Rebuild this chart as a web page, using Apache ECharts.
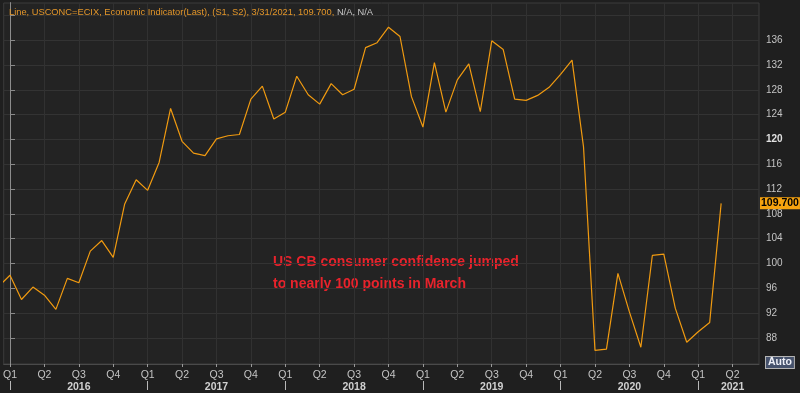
<!DOCTYPE html>
<html><head><meta charset="utf-8">
<script src="https://cdn.jsdelivr.net/npm/echarts@6/dist/echarts.min.js"></script>
<style>html,body{margin:0;padding:0;background:#1f1f1f}#c{width:800px;height:393px}</style>
</head><body><div id="c"></div><script>
// ---- data ----
const months = [
  '2015-12',
  '2016-01','2016-02','2016-03','2016-04','2016-05','2016-06','2016-07','2016-08','2016-09','2016-10','2016-11','2016-12',
  '2017-01','2017-02','2017-03','2017-04','2017-05','2017-06','2017-07','2017-08','2017-09','2017-10','2017-11','2017-12',
  '2018-01','2018-02','2018-03','2018-04','2018-05','2018-06','2018-07','2018-08','2018-09','2018-10','2018-11','2018-12',
  '2019-01','2019-02','2019-03','2019-04','2019-05','2019-06','2019-07','2019-08','2019-09','2019-10','2019-11','2019-12',
  '2020-01','2020-02','2020-03','2020-04','2020-05','2020-06','2020-07','2020-08','2020-09','2020-10','2020-11','2020-12',
  '2021-01','2021-02','2021-03'
];
const values = [
  96.3,
  98.1, 94.2, 96.2, 94.9, 92.6, 97.6, 96.9, 102.0, 103.7, 101.0, 109.6, 113.5,
  111.8, 116.3, 125.0, 119.7, 117.8, 117.4, 120.1, 120.6, 120.8, 126.5, 128.6, 123.3,
  124.4, 130.2, 127.2, 125.7, 129.0, 127.2, 128.1, 134.8, 135.6, 138.1, 136.6, 126.9,
  122.0, 132.4, 124.4, 129.6, 132.2, 124.5, 135.9, 134.5, 126.5, 126.3, 127.1, 128.4,
  130.5, 132.8, 118.8, 86.0, 86.2, 98.4, 92.2, 86.5, 101.3, 101.5, 92.8, 87.3,
  89.0, 90.5, 109.7
];
const quarterTicks = [0,3,6,9,12,15,18,21,24,27,30,33,36,39,42,45,48,51,54,57,60,63];
const quarterNames = ['Q1','Q2','Q3','Q4'];
const yearStarts = [0,12,24,36,48,60];
const yearLabelPos = [6,18,30,42,54,63];
const yearNames = ['2016','2017','2018','2019','2020','2021'];
const yLabels = [88,92,96,100,104,108,112,116,120,124,128,132,136];
const yGrid = [88,92,96,100,104,108,112,116,120,124,128,132,136,140];
const lastValueText = '109.700';
const lastValue = 109.7;
const titleMain = 'Line, USCONC=ECIX, Economic Indicator(Last), (S1, S2), 3/31/2021, 109.700, ';
const titleTail = 'N/A, N/A';
const noteText = 'US CB consumer confidence jumped\nto nearly 100 points in March';

function monthIndex(s){ const [y,m] = s.split('-').map(Number); return (y-2016)*12 + (m-1); }
const seriesData = months.map((m,i)=>[monthIndex(m), values[i]]);

const FONT = 'Liberation Sans, Arial, sans-serif';
const chart = echarts.init(document.getElementById('c'), null, {renderer:'canvas'});
const noteGraphic = {
  id: 'note', type: 'text', left: 273, top: 251,
  style: {text: noteText, fill: '#e8232c', font: 'bold 14px ' + FONT, lineHeight: 22}
};
const autoGraphic = {
  id: 'auto', type: 'text', left: 765, top: 356,
  style: {text: 'Auto', fill: '#eef0f8', font: 'bold 10.5px ' + FONT,
    backgroundColor: '#46526c', borderColor: '#b4b4b4', borderWidth: 1, padding: [0, 2, 0, 2]}
};
chart.setOption({
  backgroundColor: '#1f1f1f',
  animation: false,
  textStyle: {fontFamily: FONT},
  title: {
    left: 4, top: 3,
    text: '{o|' + titleMain + '}{g|' + titleTail + '}',
    textStyle: {
      fontWeight: 'normal',
      rich: {
        o: {color: '#e3962a', fontSize: 9.3, fontWeight: 'normal', fontFamily: FONT},
        g: {color: '#c8c8c8', fontSize: 9.3, fontWeight: 'normal', fontFamily: FONT}
      }
    }
  },
  grid: {left: 3, right: 41, top: 3, bottom: 26, show: true, backgroundColor: '#232323', borderColor: '#3c3c3c', borderWidth: 1},
  xAxis: [{
    type: 'value', min: -0.55, max: 65.3,
    axisLine: {show: true, lineStyle: {color: '#4a4a4a'}},
    axisTick: {show: true, customValues: quarterTicks, length: 3, lineStyle: {color: '#9a9a9a'}},
    splitLine: {show: true, lineStyle: {color: '#313131'}},
    axisLabel: {
      customValues: quarterTicks, margin: 6, color: '#c4c4c4', fontSize: 10.5, lineHeight: 11, fontFamily: FONT,
      formatter: function(v){
        const q = quarterNames[Math.round(((v % 12) + 12) % 12 / 3)];
        const k = yearLabelPos.indexOf(v);
        return k >= 0 ? q + '\n{y|' + yearNames[k] + '}' : q;
      },
      rich: {y: {fontWeight: 'bold', color: '#d0d0d0', fontSize: 10.5, lineHeight: 12, fontFamily: FONT}}
    }
  }, {
    type: 'value', min: -0.55, max: 65.3, position: 'bottom', offset: 17,
    axisLine: {show: false},
    axisTick: {show: true, customValues: yearStarts, length: 9, lineStyle: {color: '#b8b8b8'}},
    axisLabel: {show: false},
    splitLine: {show: false}
  }],
  yAxis: [{
    type: 'value', position: 'right', min: 83.8, max: 142,
    axisLine: {show: true, lineStyle: {color: '#d0d0d0'}},
    axisTick: {show: true, customValues: yGrid, length: 5, lineStyle: {color: '#8a8a8a'}},
    splitLine: {show: true, lineStyle: {color: '#333333'}},
    axisLabel: {
      customValues: yLabels, margin: 7, color: '#c4c4c4', fontSize: 10, fontFamily: FONT,
      formatter: v => v === 120 ? '{b|120}' : String(v),
      rich: {b: {fontWeight: 'bold', color: '#e0e0e0', fontSize: 10, fontFamily: FONT}}
    }
  }, {
    type: 'value', position: 'left', min: 83.8, max: 142,
    axisLine: {show: true, lineStyle: {color: '#8c8c8c'}},
    axisTick: {show: false}, axisLabel: {show: false}, splitLine: {show: false}
  }],
  series: [{
    type: 'line', data: seriesData, showSymbol: false, symbol: 'none',
    lineStyle: {color: '#f09a10', width: 1.2}, clip: true
  }],
  graphic: [noteGraphic, autoGraphic]
});
// last-value tag on the right axis, positioned through the y scale
const yPix = chart.convertToPixel({yAxisIndex: 0}, lastValue);
chart.setOption({
  graphic: [noteGraphic, autoGraphic, {
    id: 'lastTag', type: 'text', x: 760, y: yPix,
    style: {text: lastValueText, fill: '#000', font: 'bold 10.5px ' + FONT,
      backgroundColor: '#f7a30f', padding: [1, 1, 0, 1], verticalAlign: 'middle', align: 'left'}
  }]
});
</script></body></html>
